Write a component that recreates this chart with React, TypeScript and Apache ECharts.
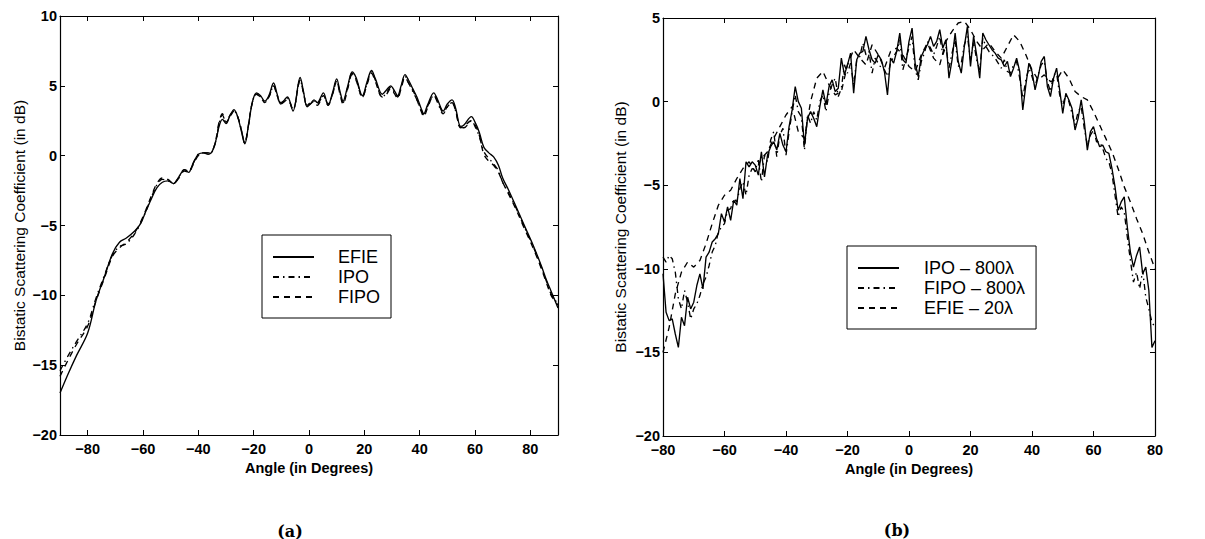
import React, { useEffect, useRef } from "react";
import * as echarts from "echarts";

const FONT = '"Liberation Sans", Arial, Helvetica, sans-serif';

// ---------- Panel (a) ----------
const xTicksA = [-80, -60, -40, -20, 0, 20, 40, 60, 80];
const xTicksB = [-80, -60, -40, -20, 0, 20, 40, 60, 80];

const efieA: number[][] = [
  [-90, -17.0], [-87, -15.6], [-84, -14.3], [-80, -12.7], [-77, -10.4], [-74, -8.7], [-71, -7.0], [-68.5, -6.2],
  [-66, -5.9], [-63, -5.4], [-61, -4.9], [-59, -4.0], [-57, -3.1], [-55, -2.3], [-53, -1.9], [-51, -1.8],
  [-49, -2.0], [-47, -1.5], [-45, -1.0], [-43.5, -1.2], [-42, -0.6], [-40, 0.1], [-38, 0.2], [-36.5, 0.1],
  [-35, 0.3], [-33.5, 1.2], [-32.5, 2.1], [-31.3, 2.6], [-30, 2.3], [-28.5, 2.9], [-27.1, 3.3], [-25.8, 2.8],
  [-24.5, 1.8], [-23.2, 0.85], [-22, 2.0], [-20.5, 3.8], [-19, 4.5], [-17.5, 4.3], [-16, 3.9], [-14.5, 4.3],
  [-12.8, 5.2], [-11.5, 4.4], [-10.2, 3.7], [-7.8, 4.2], [-5.8, 3.2], [-3.2, 5.6], [-2, 4.6], [-0.7, 3.5],
  [0.5, 3.7], [1.8, 4.0], [3, 3.8], [5.2, 4.5], [6.9, 3.6], [8.5, 4.5], [10, 5.5], [11.2, 4.6],
  [12.3, 3.9], [14, 5.0], [15.6, 6.0], [17, 5.6], [19.3, 4.3], [21, 5.3], [22.6, 6.1], [24, 5.5],
  [26.5, 4.4], [28, 4.7], [29.5, 5.0], [31, 4.6], [32, 4.3], [33.3, 5.0], [34.7, 5.8], [36, 5.4],
  [37.5, 4.8], [39, 4.2], [40.5, 3.4], [41.5, 3.0], [42.8, 3.6], [45.1, 4.5], [46.5, 4.0], [48.5, 3.2],
  [50, 3.7], [51.7, 4.0], [53, 3.4], [54.8, 2.1], [56, 2.2], [58.7, 2.8], [60, 2.4], [61.5, 1.7],
  [63.2, 0.6], [65, 0.2], [66.8, -0.1], [68.5, -0.7], [70, -1.6], [72, -2.4], [74.5, -3.5], [77.6, -4.9],
  [81.2, -6.5], [84, -7.9], [86, -9.0], [87.5, -9.7], [90, -10.9],
];

const ipoA: number[][] = [
  [-90, -15.4], [-87, -14.3], [-84, -13.3], [-80, -12.0], [-77, -10.2], [-74, -8.6], [-71, -7.1], [-68.5, -6.5],
  [-66, -6.3], [-63, -5.6], [-61, -4.9], [-59, -4.0], [-57, -3.0], [-55, -2.1], [-53, -1.7], [-51, -1.8],
  [-49, -2.0], [-47, -1.5], [-45, -1.0], [-43.5, -1.1], [-42, -0.6], [-40, 0.1], [-38, 0.2], [-36.5, 0.2],
  [-35, 0.3], [-33.5, 1.2], [-32.5, 2.3], [-31.3, 2.9], [-30, 2.4], [-28.5, 2.9], [-27.1, 3.2], [-25.8, 2.8],
  [-24.5, 1.9], [-23.2, 0.9], [-22, 2.0], [-20.5, 3.8], [-19, 4.4], [-17.5, 4.2], [-16, 3.9], [-14.5, 4.2],
  [-12.8, 5.0], [-11.5, 4.3], [-10.2, 3.8], [-7.8, 4.1], [-5.8, 3.3], [-3.2, 5.4], [-2, 4.5], [-0.7, 3.6],
  [0.5, 3.8], [1.8, 3.9], [3, 3.7], [5.2, 4.3], [6.9, 3.7], [8.5, 4.4], [10, 5.3], [11.2, 4.5],
  [12.3, 3.8], [14, 4.9], [15.6, 5.9], [17, 5.5], [19.3, 4.2], [21, 5.2], [22.6, 6.0], [24, 5.4],
  [26.5, 4.2], [28, 4.5], [29.5, 4.9], [31, 4.5], [32, 4.2], [33.3, 4.9], [34.7, 5.7], [36, 5.2],
  [37.5, 4.6], [39, 4.0], [40.5, 3.3], [41.5, 2.9], [42.8, 3.5], [45.1, 4.3], [46.5, 3.8], [48.5, 3.0],
  [50, 3.5], [51.7, 3.8], [53, 3.2], [54.8, 2.0], [56, 2.0], [58.7, 2.5], [60, 2.1], [61.5, 1.4],
  [63.2, 0.3], [65, -0.2], [66.8, -0.6], [68.5, -1.1], [70, -1.9], [72, -2.6], [74.5, -3.6], [77.6, -5.0],
  [81.2, -6.6], [84, -8.0], [86, -9.1], [87.5, -9.9], [90, -10.6],
];

const fipoA: number[][] = [
  [-90, -15.8], [-87, -14.6], [-84, -13.5], [-80, -12.2], [-77, -10.4], [-74, -8.8], [-71, -7.2], [-68.5, -6.6],
  [-66, -6.2], [-63, -5.5], [-61, -4.8], [-59, -3.9], [-57, -2.9], [-55, -2.0], [-53, -1.6], [-51, -1.7],
  [-49, -2.0], [-47, -1.6], [-45, -1.1], [-43.5, -1.2], [-42, -0.7], [-40, 0.0], [-38, 0.2], [-36.5, 0.2],
  [-35, 0.3], [-33.5, 1.3], [-32.5, 2.4], [-31.3, 3.0], [-30, 2.4], [-28.5, 2.8], [-27.1, 3.2], [-25.8, 2.8],
  [-24.5, 1.9], [-23.2, 0.9], [-22, 2.1], [-20.5, 3.8], [-19, 4.4], [-17.5, 4.2], [-16, 3.8], [-14.5, 4.2],
  [-12.8, 5.0], [-11.5, 4.3], [-10.2, 3.7], [-7.8, 4.0], [-5.8, 3.3], [-3.2, 5.4], [-2, 4.5], [-0.7, 3.6],
  [0.5, 3.7], [1.8, 3.9], [3, 3.6], [5.2, 4.3], [6.9, 3.6], [8.5, 4.4], [10, 5.3], [11.2, 4.4],
  [12.3, 3.7], [14, 4.8], [15.6, 5.8], [17, 5.4], [19.3, 4.2], [21, 5.1], [22.6, 5.9], [24, 5.3],
  [26.5, 4.2], [28, 4.4], [29.5, 4.8], [31, 4.4], [32, 4.1], [33.3, 4.8], [34.7, 5.6], [36, 5.2],
  [37.5, 4.7], [39, 4.0], [40.5, 3.2], [41.5, 2.8], [42.8, 3.4], [45.1, 4.3], [46.5, 3.9], [48.5, 3.1],
  [50, 3.5], [51.7, 3.8], [53, 3.2], [54.8, 2.0], [56, 2.1], [58.7, 2.5], [60, 2.2], [61.5, 1.5],
  [63.2, 0.1], [65, -0.4], [66.8, -0.7], [68.5, -1.2], [70, -1.9], [72, -2.7], [74.5, -3.7], [77.6, -5.1],
  [81.2, -6.7], [84, -8.1], [86, -9.2], [87.5, -10.0], [90, -10.7],
];

// ---------- Panel (b) ----------
// sampling grids (degrees) of the two computations
const anglesB1 = Array.from({ length: 161 }, (_, i) => -80 + i);
const anglesB2 = Array.from({ length: 81 }, (_, i) => -80 + 2 * i);

const ipoB = [
  -10.3, -12.6, -13.1, -13.0, -13.9, -14.7, -12.9, -13.4, -11.7, -12.4,
  -12.0, -11.0, -10.3, -11.2, -9.3, -9.0, -8.4, -8.2, -7.9, -6.7,
  -7.2, -6.3, -7.1, -5.9, -6.2, -4.6, -5.8, -3.6, -3.9, -3.6,
  -3.8, -4.4, -3.0, -4.5, -3.2, -2.7, -2.4, -2.9, -1.9, -2.6,
  -3.0, -1.5, -0.5, 0.9, 0.0, -0.4, -2.6, -1.0, -0.6, -1.0,
  -1.5, -0.3, 0.7, -0.2, 0.9, 1.3, 0.6, 0.8, 2.6, 1.6,
  2.2, 2.9, 0.5, 2.5, 2.9, 3.0, 3.9, 3.1, 2.5, 2.3,
  2.8, 2.5, 1.8, 0.4, 2.6, 2.3, 3.0, 4.1, 2.5, 2.3,
  3.6, 4.4, 2.3, 1.5, 2.7, 3.1, 3.4, 3.9, 3.3, 3.6,
  4.3, 3.2, 3.7, 1.4, 2.5, 4.1, 2.4, 1.7, 3.3, 4.5,
  2.1, 3.9, 2.8, 1.4, 4.1, 3.7, 3.4, 3.1, 2.9, 2.6,
  2.5, 2.1, 2.4, 1.5, 2.0, 2.6, 1.8, -0.5, 1.0, 2.3,
  1.8, 0.7, 1.5, 2.4, 2.7, 0.9, 0.3, 1.4, 2.0, 0.7,
  -0.7, 0.5, 0.1, -0.4, -1.7, -1.0, 0.1, -1.2, -2.9, -1.8,
  -1.5, -2.2, -2.7, -2.6, -3.0, -3.1, -4.0, -5.1, -6.5, -6.0,
  -5.7, -7.5, -9.0, -9.9, -9.2, -8.7, -10.3, -9.9, -11.3, -14.7, -14.3,
];

const fipoB = [
  -9.3, -9.6, -9.2, -9.4, -10.2, -11.8, -12.4, -11.3, -12.0, -13.0,
  -12.4, -12.1, -11.6, -10.9, -10.5, -9.8, -9.0, -8.6, -7.8, -7.5,
  -7.3, -6.5, -6.4, -5.8, -6.0, -5.2, -4.8, -5.6, -4.4, -4.0,
  -4.1, -3.5, -4.8, -3.2, -3.6, -2.3, -1.8, -3.3, -2.0, -1.6,
  -3.2, -1.8, -0.6, 0.4, -0.6, -0.9, -2.9, -0.8, -1.3, -0.6,
  -1.1, 0.0, 0.4, -0.6, 0.5, 1.0, 1.4, 0.3, 0.8, 2.2,
  1.7, 2.3, 1.0, 2.5, 2.7, 3.5, 2.8, 3.0, 1.7, 2.6,
  2.3, 2.0, 1.9, 1.5, 2.3, 2.7, 3.0, 3.7, 1.9, 2.6,
  3.2, 3.9, 1.9, 1.3, 2.4, 2.9, 3.6, 3.2, 2.8, 3.3,
  3.9, 2.8, 3.3, 2.0, 2.9, 3.7, 2.1, 2.3, 3.4, 3.9,
  2.5, 3.6, 2.5, 1.9, 3.8, 3.3, 3.0, 2.8, 2.6, 2.3,
  2.0, 2.5, 1.8, 1.7, 2.2, 2.4, 1.4, 0.2, 1.3, 2.0,
  1.5, 0.9, 1.6, 2.2, 2.4, 1.2, 0.6, 1.6, 1.7, 0.4,
  -0.2, 0.4, 0.0, -0.7, -1.4, -0.6, -0.3, -1.6, -2.6, -2.0,
  -1.7, -2.4, -2.4, -2.8, -3.4, -3.6, -4.3, -5.6, -6.9, -6.3,
  -6.6, -8.1, -9.5, -10.8, -10.2, -11.2, -10.1, -11.7, -12.4, -13.2, -13.5,
];

const efieB = [
  -15.0, -13.5, -11.5, -10.2, -9.6, -9.9, -9.5, -8.5, -7.3, -6.2,
  -5.6, -5.3, -4.6, -4.0, -3.6, -4.2, -3.4, -3.0, -2.2, -1.5,
  -0.8, -0.3, -1.8, -2.2, 0.0, 1.4, 1.8, 1.0, 0.4, 0.6,
  2.2, 3.1, 2.6, 2.2, 3.4, 2.8, 2.0, 3.0, 3.2, 2.8,
  2.1, 1.8, 2.8, 3.5, 2.6, 2.2, 3.6, 4.2, 4.7, 4.8,
  4.3, 3.6, 3.1, 3.5, 3.0, 2.6, 3.3, 4.0, 3.6, 2.8,
  1.9, 1.3, 1.6, 1.2, 1.3, 1.9, 1.4, 0.6, 0.3, 0.1,
  -0.6, -1.4, -2.2, -3.0, -4.0, -5.1, -6.0, -7.0, -7.9, -9.0,
  -10.0,
];

const namesA = ["EFIE", "IPO", "FIPO"];
const namesB = ["IPO \u2013 800\u03bb", "FIPO \u2013 800\u03bb", "EFIE \u2013 20\u03bb"];
const yTitle = "Bistatic Scattering Coefficient (in dB)";
const xTitle = "Angle (in Degrees)";

const SOLID = "solid";
const DASHDOT = [6, 4, 1.5, 4];
const DASHED = [6, 5];

const minus = (v: number) => String(v).replace("-", "\u2212");

const tickLabel = {
  color: "#000",
  fontFamily: FONT,
  fontSize: 14.5,
  fontWeight: "bold" as const,
  formatter: minus,
};

function xPair(gridIndex: number, min: number, max: number, ticks: number[]) {
  const common = {
    type: "value" as const,
    gridIndex,
    min,
    max,
    splitLine: { show: false },
    axisLine: { show: true, onZero: false, lineStyle: { color: "#000", width: 1.2 } },
    axisTick: { show: true, inside: true, length: 5, lineStyle: { color: "#000", width: 1 }, customValues: ticks },
  };
  return [
    {
      ...common,
      position: "bottom" as const,
      axisLabel: { ...tickLabel, margin: 6, customValues: ticks },
      name: xTitle,
      nameLocation: "middle" as const,
      nameGap: 25,
      nameTextStyle: { color: "#000", fontFamily: FONT, fontSize: 14.5, fontWeight: "bold" as const },
    },
    { ...common, position: "top" as const, axisLabel: { show: false } },
  ];
}

function yPair(gridIndex: number, min: number, max: number, nameGap: number) {
  const common = {
    type: "value" as const,
    gridIndex,
    min,
    max,
    interval: 5,
    splitLine: { show: false },
    axisLine: { show: true, onZero: false, lineStyle: { color: "#000", width: 1.2 } },
    axisTick: { show: true, inside: true, length: 5, lineStyle: { color: "#000", width: 1 } },
  };
  return [
    {
      ...common,
      position: "left" as const,
      axisLabel: { ...tickLabel, margin: 3 },
      name: yTitle,
      nameLocation: "middle" as const,
      nameGap,
      nameTextStyle: { color: "#000", fontFamily: FONT, fontSize: 15.5 },
    },
    { ...common, position: "right" as const, axisLabel: { show: false } },
  ];
}

function lineSeries(name: string, data: any[], type: any, xi: number, yi: number, smooth: boolean) {
  return {
    type: "line" as const,
    name,
    data,
    xAxisIndex: xi,
    yAxisIndex: yi,
    symbol: "none",
    smooth: smooth ? 0.35 : false,
    lineStyle: { color: "#000", width: 1.35, type },
    itemStyle: { color: "#000" },
    silent: true,
    clip: true,
  };
}

function legendBox(left: number, top: number, data: string[], textPad: number) {
  return {
    data,
    left,
    top,
    orient: "vertical" as const,
    align: "left" as const,
    backgroundColor: "#fff",
    borderColor: "#000",
    borderWidth: 1,
    borderRadius: 0,
    padding: [13, 11, 12, 10],
    itemWidth: 41,
    itemHeight: 14,
    itemGap: 2,
    selectedMode: false,
    itemStyle: { opacity: 0 },
    textStyle: { color: "#000", fontFamily: FONT, fontSize: 18, lineHeight: 16, padding: [0, 0, 0, textPad] },
  };
}

export default function App() {
  const ref = useRef<HTMLDivElement>(null);

  useEffect(() => {
    if (!ref.current) return;
    const chart = echarts.init(ref.current, null, { renderer: "svg" });
    const pairsB1 = (vals: number[]) => anglesB1.map((a, i) => [a, vals[i]]);
    const pairsB2 = (vals: number[]) => anglesB2.map((a, i) => [a, vals[i]]);

    const option = {
      animation: false,
      backgroundColor: "#fff",
      grid: [
        { left: 60, top: 16, width: 498, height: 419 },
        { left: 663, top: 18, width: 492, height: 418 },
      ],
      xAxis: [...xPair(0, -90, 90, xTicksA), ...xPair(1, -80, 80, xTicksB)],
      yAxis: [...yPair(0, -20, 10, 33), ...yPair(1, -20, 5, 35)],
      legend: [legendBox(262, 235, namesA, 19), legendBox(847, 246, namesB, 20)],
      series: [
        lineSeries(namesA[0], efieA, SOLID, 0, 0, true),
        lineSeries(namesA[1], ipoA, DASHDOT, 0, 0, true),
        lineSeries(namesA[2], fipoA, DASHED, 0, 0, true),
        lineSeries(namesB[0], pairsB1(ipoB), SOLID, 2, 2, false),
        lineSeries(namesB[1], pairsB1(fipoB), DASHDOT, 2, 2, false),
        lineSeries(namesB[2], pairsB2(efieB), DASHED, 2, 2, false),
      ],
      graphic: [
        {
          type: "text",
          x: 290,
          y: 531,
          style: { text: "(a)", font: 'bold 16px "DejaVu Serif", "Liberation Serif", serif', fill: "#000", align: "center", verticalAlign: "middle" },
        },
        {
          type: "text",
          x: 897,
          y: 530,
          style: { text: "(b)", font: 'bold 16px "DejaVu Serif", "Liberation Serif", serif', fill: "#000", align: "center", verticalAlign: "middle" },
        },
      ],
    };
    chart.setOption(option as any);
    return () => chart.dispose();
  }, []);

  return (
    <div
      ref={ref}
      style={{ position: "fixed", left: 0, top: 0, width: 1205, height: 539, background: "#fff" }}
    />
  );
}
